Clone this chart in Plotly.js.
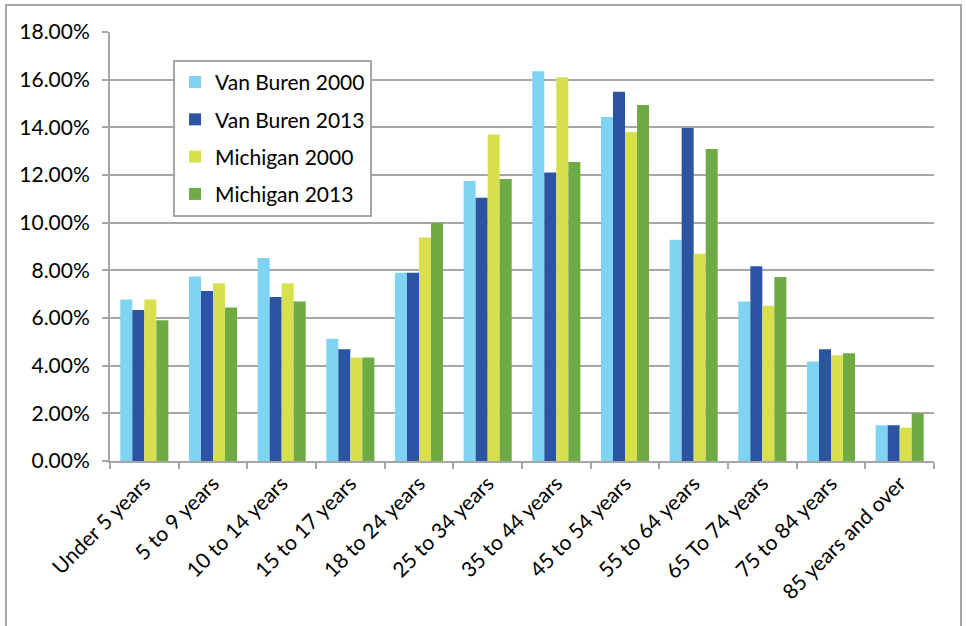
<!DOCTYPE html>
<html>
<head>
<meta charset="utf-8">
<script src="https://cdn.plot.ly/plotly-3.0.1.min.js"></script>
<style>
  html, body { margin: 0; padding: 0; background: #fff; overflow: hidden; }
  #chart { position: absolute; left: 0; top: 0; width: 966px; height: 626px; }
  #frame { position: absolute; left: 5px; top: 4px; width: 953px; height: 700px;
           border-left: 2px solid #a6a6a6; border-top: 2px solid #a6a6a6; border-right: 2px solid #a6a6a6;
           pointer-events: none; z-index: 10; }
</style>
</head>
<body>
<div id="chart"></div>
<div id="frame"></div>
<script>
const categories = ["Under 5 years", "5 to 9 years", "10 to 14 years", "15 to 17 years",
  "18 to 24 years", "25 to 34 years", "35 to 44 years", "45 to 54 years",
  "55 to 64 years", "65 To 74 years", "75 to 84 years", "85 years and over"];

const vanBuren2000 = [6.78, 7.74, 8.52, 5.13, 7.90, 11.75, 16.35, 14.43, 9.28, 6.69, 4.18, 1.50];
const vanBuren2013 = [6.34, 7.13, 6.88, 4.69, 7.90, 11.05, 12.10, 15.49, 13.97, 8.17, 4.69, 1.50];
const michigan2000 = [6.78, 7.46, 7.46, 4.34, 9.38, 13.70, 16.10, 13.80, 8.70, 6.51, 4.44, 1.40];
const michigan2013 = [5.91, 6.44, 6.69, 4.34, 10.00, 11.83, 12.55, 14.94, 13.09, 7.72, 4.52, 2.00];

const seriesNames = ["Van Buren 2000", "Van Buren 2013", "Michigan 2000", "Michigan 2013"];
const seriesColors = ["#7fd3f3", "#2b55a3", "#d9e04e", "#6fab45"];
const seriesValues = [vanBuren2000, vanBuren2013, michigan2000, michigan2013];

const FONT = "Lato, 'Open Sans', sans-serif";
const FS = 21;

const traces = seriesValues.map((vals, i) => ({
  type: "bar",
  name: seriesNames[i],
  x: categories,
  y: vals,
  marker: { color: seriesColors[i], line: { width: 0 } },
  legendgroup: "g" + i,
  hoverinfo: "x+y+name"
}));

const layout = {
  width: 966,
  height: 626,
  margin: { l: 110, r: 32, t: 32, b: 165 },
  paper_bgcolor: "#ffffff",
  plot_bgcolor: "#ffffff",
  font: { family: FONT, size: FS, color: "#000000" },
  barmode: "group",
  bargap: 0.30,
  bargroupgap: 0,
  showlegend: true,
  legend: {
    x: 0.0765, y: 0.935, xanchor: "left", yanchor: "top",
    bgcolor: "#ffffff",
    bordercolor: "#a6a6a6",
    borderwidth: 2,
    font: { family: FONT, size: FS, color: "#000000" },
    traceorder: "grouped",
    tracegroupgap: 7,
    itemwidth: 30
  },
  xaxis: {
    type: "category",
    tickangle: -45,
    showline: true,
    linecolor: "#a6a6a6",
    linewidth: 2,
    ticks: "outside",
    tickson: "boundaries",
    ticklen: 6,
    tickwidth: 2,
    tickcolor: "#a6a6a6",
    showgrid: false,
    tickfont: { family: FONT, size: FS, color: "#000000" }
  },
  yaxis: {
    range: [0, 18],
    dtick: 2,
    tick0: 0,
    tickformat: ".2f",
    ticksuffix: "%",
    showline: true,
    linecolor: "#a6a6a6",
    linewidth: 2,
    ticks: "outside",
    ticklen: 6,
    tickwidth: 2,
    tickcolor: "#a6a6a6",
    showgrid: true,
    gridcolor: "#a6a6a6",
    gridwidth: 2,
    zeroline: false,
    ticklabelstandoff: 8,
    tickfont: { family: FONT, size: FS, color: "#000000" }
  }
};

Plotly.newPlot("chart", traces, layout, { displayModeBar: false, staticPlot: true });
</script>
</body>
</html>
